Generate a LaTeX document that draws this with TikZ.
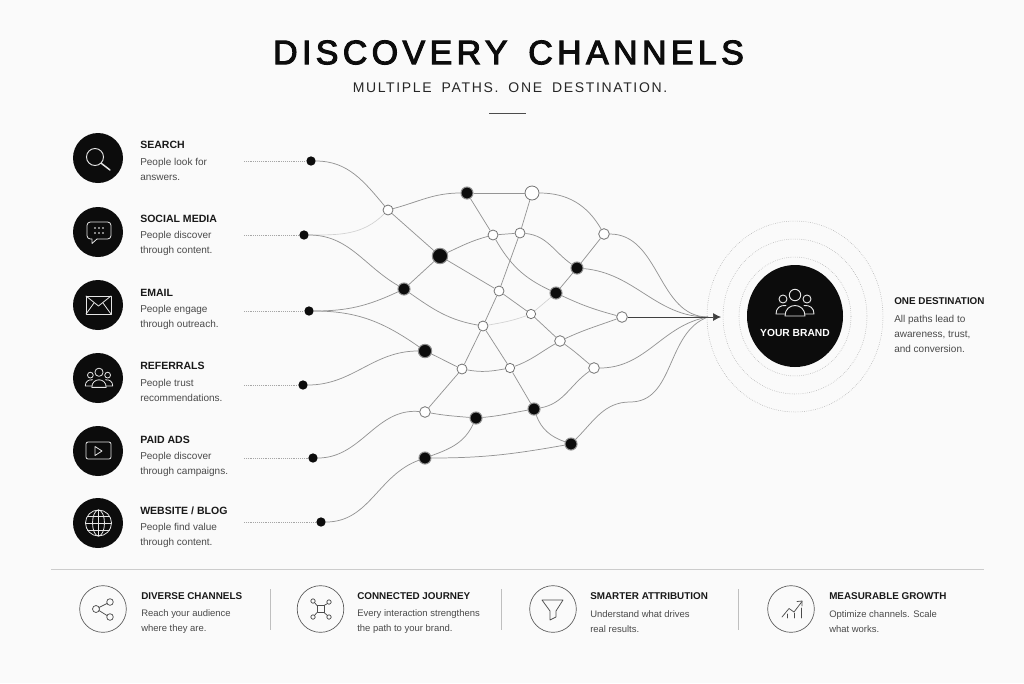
\documentclass[tikz,border=0pt]{standalone}
\usepackage{fontspec}
\setmainfont{Liberation Sans}
\newfontfamily\titlefont[LetterSpace=12.8,WordSpace=1.5,FakeBold=3]{Liberation Sans}
\newfontfamily\subfont[LetterSpace=11.8,WordSpace=1.8]{Liberation Sans}
\usetikzlibrary{arrows.meta,shapes.geometric}
\definecolor{paper}{HTML}{FAFAFA}
\definecolor{ink}{HTML}{0C0C0C}
\definecolor{wiregray}{HTML}{949494}
\definecolor{faintgray}{HTML}{D2D2D2}
\definecolor{bodygray}{HTML}{4A4A4A}
\tikzset{
  wire/.style={draw=wiregray,line width=0.55pt},
  faint/.style={draw=faintgray,line width=0.5pt},
  guide/.style={draw=black!35,line width=0.4pt,densely dotted},
  ring/.style={draw=black!35,line width=0.4pt,densely dotted},
  source/.style={circle,fill=ink,inner sep=0pt,minimum size=7pt},
  hub/.style={circle,fill=ink,draw=black!45,line width=0.8pt,inner sep=0pt,minimum size=#1},
  hub/.default=9pt,
  stop/.style={circle,fill=white,draw=black!55,line width=0.6pt,inner sep=0pt,minimum size=#1},
  stop/.default=7.5pt,
  badge/.style={circle,fill=ink,inner sep=0pt,minimum size=37.5pt},
  perk/.style={circle,draw=black!65,line width=0.5pt,inner sep=0pt,minimum size=35pt},
  icon/.style={draw=white!90!black,line width=0.6pt,line join=round,line cap=round},
  perkicon/.style={draw=black!70,line width=0.55pt,line join=round,line cap=round},
  head/.style={anchor=west,inner sep=0pt,text=black!90,font=\fontsize{7.9}{9}\selectfont\bfseries},
  foothead/.style={head,font=\fontsize{7.4}{9}\selectfont\bfseries},
  desc/.style={anchor=west,inner sep=0pt,text=bodygray,align=left,font=\fontsize{7.5}{11.25}\selectfont},
  footdesc/.style={desc,font=\fontsize{7.1}{11.25}\selectfont},
  crowd/.pic={
    \path[pic actions] (0,-8) circle (5.7);
    \path[pic actions] (-12,-4) circle (4);
    \path[pic actions] (12,-4) circle (4);
    \path[pic actions] (-10,13) .. controls (-10,-1) and (10,-1) .. (10,13) -- cycle;
    \path[pic actions] (-10,11) -- (-19,11) .. controls (-19,5) and (-15,2) .. (-9,2.5);
    \path[pic actions] (10,11) -- (19,11) .. controls (19,5) and (15,2) .. (9,2.5);
  }
}
\begin{document}
\begin{tikzpicture}[x=0.75pt,y=-0.75pt]
\useasboundingbox (0,0) rectangle (1024,683);
\fill[paper] (0,0) rectangle (1024,683);
%TITLE
\node[inner sep=0pt,text=ink,font=\fontsize{25.5}{28}\selectfont\titlefont] (title) at (508.5,52.5) {DISCOVERY CHANNELS};
\node[inner sep=0pt,text=black!85,font=\fontsize{10.5}{12}\selectfont\subfont] (subtitle) at (510,88) {MULTIPLE PATHS. ONE DESTINATION.};
\coordinate (ruleL) at (489,113);
\coordinate (ruleR) at (526,113);
\draw[black!70,line width=0.6pt] (ruleL) -- (ruleR);
%CHANNELS
\node[badge] (c1) at (98,158) {};
\node[badge] (c2) at (98,232) {};
\node[badge] (c3) at (98,305) {};
\node[badge] (c4) at (98,378) {};
\node[badge] (c5) at (98,451) {};
\node[badge] (c6) at (98,523) {};
\node[head] (h1) at (140,144.7) {SEARCH};
\node[desc] (d1) at (140,169.5) {People look for\\answers.};
\node[head] (h2) at (140,218.7) {SOCIAL MEDIA};
\node[desc] (d2) at (140,243.5) {People discover\\through content.};
\node[head] (h3) at (140,292.7) {EMAIL};
\node[desc] (d3) at (140,317.5) {People engage\\through outreach.};
\node[head] (h4) at (140,365.7) {REFERRALS};
\node[desc] (d4) at (140,390.5) {People trust\\recommendations.};
\node[head] (h5) at (140,439.7) {PAID ADS};
\node[desc] (d5) at (140,464.5) {People discover\\through campaigns.};
\node[head] (h6) at (140,510.7) {WEBSITE / BLOG};
\node[desc] (d6) at (140,535.5) {People find value\\through content.};
%ICONS
\draw[icon,line width=0.7pt] (95,157) circle (8.5);
\draw[icon,line width=1.1pt] (101.5,163.5) -- (110,170);
\draw[icon,rounded corners=2.5] (87,222) rectangle (111,239);
\fill[ink] (91.5,238) rectangle (97,240);
\draw[icon] (92,239) -- (92,243.5) -- (97,239);
\fill[white] (95,228) circle (0.9) (99,228) circle (0.9) (103,228) circle (0.9)
  (95,233) circle (0.9) (99,233) circle (0.9) (103,233) circle (0.9);
\draw[icon] (86,296) rectangle (111,314);
\draw[icon] (86,296) -- (98.5,306) -- (111,296);
\draw[icon] (86,314) -- (94,303);
\draw[icon] (111,314) -- (103,303);
\pic[icon,scale=0.72] at (99,378) {crowd};
\draw[icon,rounded corners=1.5] (86,442) rectangle (111,459);
\draw[icon] (95,446.5) -- (95,455.5) -- (102,451) -- cycle;
\draw[icon] (98.5,523) circle (13);
\draw[icon] (98.5,523) ellipse (6 and 13);
\draw[icon] (98.5,510) -- (98.5,536);
\draw[icon] (85.5,523) -- (111.5,523);
\draw[icon] (87.5,516) -- (109.5,516);
\draw[icon] (87.5,530) -- (109.5,530);
%NETWORK NODES
\node[source] (s1) at (311,161) {};
\node[source] (s2) at (304,235) {};
\node[source] (s3) at (309,311) {};
\node[source] (s4) at (303,385) {};
\node[source] (s5) at (313,458) {};
\node[source] (s6) at (321,522) {};
\node[stop] (a) at (388,210) {};
\node[hub] (b) at (467,193) {};
\node[stop=10.5pt] (c) at (532,193) {};
\node[stop] (d) at (493,235) {};
\node[stop] (e) at (520,233) {};
\node[stop=8pt] (f) at (604,234) {};
\node[hub=11.5pt] (g) at (440,256) {};
\node[hub] (h) at (577,268) {};
\node[hub] (i) at (404,289) {};
\node[stop] (j) at (499,291) {};
\node[hub] (k) at (556,293) {};
\node[stop=7pt] (l) at (531,314) {};
\node[stop] (m) at (483,326) {};
\node[stop=8pt] (n) at (622,317) {};
\node[stop=8pt] (o) at (560,341) {};
\node[hub=10pt] (p) at (425,351) {};
\node[stop] (q) at (462,369) {};
\node[stop=7pt] (r) at (510,368) {};
\node[stop=8pt] (t) at (594,368) {};
\node[stop=8pt] (u) at (425,412) {};
\node[hub] (v) at (476,418) {};
\node[hub] (w) at (534,409) {};
\node[hub] (x) at (425,458) {};
\node[hub] (y) at (571,444) {};
\coordinate (dest) at (708,317);
\coordinate (tip) at (721,317);
\coordinate (yw) at (630,402);
\coordinate (g1) at (244,161);
\coordinate (g2) at (244,235);
\coordinate (g3) at (244,311);
\coordinate (g4) at (244,385);
\coordinate (g5) at (244,458);
\coordinate (g6) at (244,522);
%GUIDES
\draw[guide] (g1) -- (s1);
\draw[guide] (g2) -- (s2);
\draw[guide] (g3) -- (s3);
\draw[guide] (g4) -- (s4);
\draw[guide] (g5) -- (s5);
\draw[guide] (g6) -- (s6);
%FAINT WIRES
\draw[faint] (s2) to[out=0,in=225] (a);
\draw[faint] (m) to[out=10,in=200] (l);
\draw[faint] (l) -- (k);
%WIRES
\draw[wire] (s1) to[out=0,in=130] (a);
\draw[wire] (s2) to[out=0,in=150] (i);
\draw[wire] (s3) to[out=0,in=205] (i);
\draw[wire] (s3) to[out=0,in=145] (p);
\draw[wire] (s4) to[out=0,in=180] (p);
\draw[wire] (s5) to[out=0,in=175] (u);
\draw[wire] (s6) to[out=0,in=200] (x);
\draw[wire] (a) to[out=15,in=180] (b);
\draw[wire] (a) -- (g);
\draw[wire] (b) -- (c);
\draw[wire] (b) -- (d);
\draw[wire] (g) to[out=25,in=195] (d);
\draw[wire] (d) -- (e);
\draw[wire] (g) -- (j);
\draw[wire] (i) -- (g);
\draw[wire] (i) to[out=-35,in=170] (m);
\draw[wire] (c) -- (e);
\draw[wire] (e) -- (j);
\draw[wire] (j) -- (m);
\draw[wire] (m) -- (q);
\draw[wire] (m) -- (r);
\draw[wire] (d) to[out=-60,in=155] (k);
\draw[wire] (j) -- (l);
\draw[wire] (l) -- (o);
\draw[wire] (c) to[out=0,in=120] (f);
\draw[wire] (e) to[out=-5,in=145] (h);
\draw[wire] (f) -- (h);
\draw[wire] (h) -- (k);
\draw[wire] (f) to[out=0,in=180] (dest);
\draw[wire] (h) to[out=-5,in=180] (dest);
\draw[wire] (k) to[out=-25,in=165] (n);
\draw[wire] (o) to[out=25,in=200] (n);
\draw[wire] (o) to[out=-35,in=140] (t);
\draw[wire] (t) to[out=0,in=190] (dest);
\draw[wire] (r) to[out=20,in=210] (o);
\draw[wire] (q) to[out=-10,in=190] (r);
\draw[wire] (p) to[out=-25,in=155] (q);
\draw[wire] (q) -- (u);
\draw[wire] (r) -- (w);
\draw[wire] (u) to[out=-10,in=175] (v);
\draw[wire] (v) to[out=5,in=190] (w);
\draw[wire] (x) to[out=20,in=245] (v);
\draw[wire] (x) to[out=0,in=190] (y);
\draw[wire] (w) to[out=10,in=215] (t);
\draw[wire] (w) to[out=-70,in=160] (y);
\draw[wire] (y) to[out=45,in=180] (yw) to[out=0,in=200] (dest);
\draw[wire,draw=black!75,-{Latex[length=6pt,width=6pt]}] (n) -- (tip);
%BRAND
\draw[ring] (795,316.5) ellipse (56 and 59.5);
\draw[ring] (795,316.5) ellipse (72 and 77.5);
\draw[ring] (795,316.5) ellipse (88 and 95.5);
\node[ellipse,fill=ink,inner sep=0pt,minimum width=72pt,minimum height=76.5pt] (brand) at (795,316) {};
\pic[icon,line width=0.7pt] at (795,303) {crowd};
\node[inner sep=0pt,text=white,font=\fontsize{7.7}{10}\selectfont\bfseries] (brandname) at (795,332.5) {YOUR BRAND};
\node[foothead] (h7) at (894,300.7) {ONE DESTINATION};
\node[desc] (d7) at (894,333.5) {All paths lead to\\awareness, trust,\\and conversion.};
%BOTTOM ROW
\coordinate (foot1) at (51,569);
\coordinate (foot2) at (984,569);
\draw[black!20,line width=0.7pt] (foot1) -- (foot2);
\coordinate (sep1a) at (270,589);
\coordinate (sep1b) at (270,630);
\coordinate (sep2a) at (501,589);
\coordinate (sep2b) at (501,630);
\coordinate (sep3a) at (738,589);
\coordinate (sep3b) at (738,630);
\draw[black!25,line width=0.5pt] (sep1a) -- (sep1b);
\draw[black!25,line width=0.5pt] (sep2a) -- (sep2b);
\draw[black!25,line width=0.5pt] (sep3a) -- (sep3b);
\node[perk] (p1) at (103,609) {};
\node[perk] (p2) at (320.5,609) {};
\node[perk] (p3) at (553,609) {};
\node[perk] (p4) at (791,609) {};
\node[foothead] (h8) at (141,596.2) {DIVERSE CHANNELS};
\node[footdesc] (d8) at (141,621.5) {Reach your audience\\where they are.};
\node[foothead] (h9) at (357,596.2) {CONNECTED JOURNEY};
\node[footdesc] (d9) at (357,621.5) {Every interaction strengthens\\the path to your brand.};
\node[foothead] (h10) at (590,596.2) {SMARTER ATTRIBUTION};
\node[footdesc] (d10) at (590,621.5) {Understand what drives\\real results.};
\node[foothead] (h11) at (829,596.2) {MEASURABLE GROWTH};
\node[footdesc] (d11) at (829,621.5) {Optimize channels. Scale\\what works.};
%BOTTOM ICONS
\draw[perkicon] (96,609) circle (3.5);
\draw[perkicon] (110,602) circle (3.3);
\draw[perkicon] (110,617) circle (3.3);
\draw[perkicon] (99,607.5) -- (107,603.5);
\draw[perkicon] (99,610.5) -- (107,615.5);
\draw[perkicon] (317,605.5) rectangle (324,612.5);
\draw[perkicon] (313,601) circle (2.2);
\draw[perkicon] (329,602) circle (2.2);
\draw[perkicon] (313,617) circle (2.2);
\draw[perkicon] (329,617) circle (2.2);
\draw[perkicon] (314.5,602.5) -- (317,605.5);
\draw[perkicon] (327.5,603.5) -- (324,605.5);
\draw[perkicon] (314.5,615.5) -- (317,612.5);
\draw[perkicon] (327.5,615.5) -- (324,612.5);
\draw[perkicon] (542,600) -- (563,600) -- (556,611) -- (556,617) -- (550,620) -- (550,611) -- cycle;
\draw[perkicon] (782,617) -- (789,608.5) -- (794,612) -- (802,601.5);
\draw[perkicon] (797,601.5) -- (802,601) -- (802,606);
\draw[perkicon] (787,614) -- (787,618);
\draw[perkicon] (794,613) -- (794,618);
\draw[perkicon] (801,608) -- (801,618);
\end{tikzpicture}
\end{document}
